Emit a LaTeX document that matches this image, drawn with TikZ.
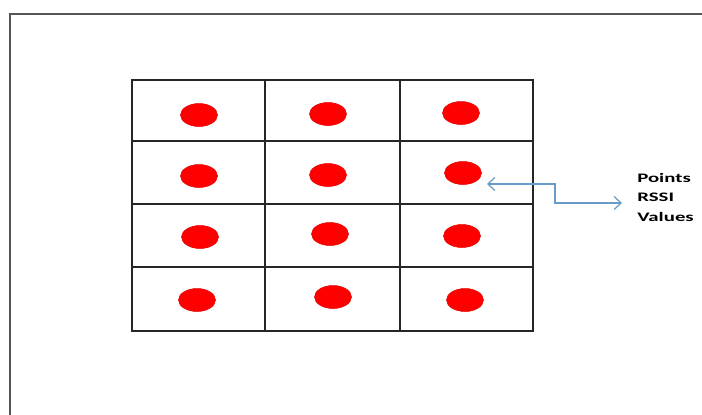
\documentclass[tikz,border=0pt]{standalone}
\usepackage{fontspec}
\setmainfont{Carlito}
\usetikzlibrary{arrows.meta,shapes.geometric}
\definecolor{arrowc}{RGB}{105,155,200}
\definecolor{framec}{RGB}{85,85,85}
\definecolor{dotc}{RGB}{255,0,0}
\tikzset{
  gridline/.style={draw=black!85,line width=1.3pt},
  frameline/.style={draw=framec,line width=1.4pt},
  dot/.style={ellipse,fill=dotc,draw=dotc!90!black,line width=0.5pt,minimum width=37pt,minimum height=23pt,inner sep=0pt},
  conn/.style={draw=arrowc,line width=1.2pt,{Straight Barb[length=7pt,width=13pt]}-{Straight Barb[length=7pt,width=13pt]}},
  lbl/.style={font=\bfseries\fontsize{13}{19.5}\selectfont,align=left,xscale=1.6,anchor=west,inner sep=0pt}
}
\begin{document}
\begin{tikzpicture}[x=1pt,y=-1pt]
\useasboundingbox[fill=white] (0,0) rectangle (702,415);
% outer frame (left and top edges)
\draw[frameline] (10,416) -- (10,14) -- (703,14);
% grid
\draw[gridline] (132,80) rectangle (533,331);
\draw[gridline] (265,80) -- (265,331);
\draw[gridline] (400,80) -- (400,331);
\draw[gridline] (132,141) -- (533,141);
\draw[gridline] (132,204) -- (533,204);
\draw[gridline] (132,267) -- (533,267);
% dots
\node[dot] (d11) at (199,115) {};
\node[dot] (d12) at (328,114) {};
\node[dot] (d13) at (461,113) {};
\node[dot] (d21) at (199,176) {};
\node[dot] (d22) at (328,175) {};
\node[dot] (d23) at (463,173) {};
\node[dot] (d31) at (200,237) {};
\node[dot] (d32) at (330,234) {};
\node[dot] (d33) at (462,236) {};
\node[dot] (d41) at (197,300) {};
\node[dot] (d42) at (333,297) {};
\node[dot] (d43) at (465,300) {};
% label
\node[lbl] (txt) at (637,197) {Points\\RSSI\\Values};
\coordinate (a1) at (487,184);
\coordinate (a2) at (622,203);
\draw[conn] (a1) -- (555,184) -- (555,203) -- (a2);
\end{tikzpicture}
\end{document}
